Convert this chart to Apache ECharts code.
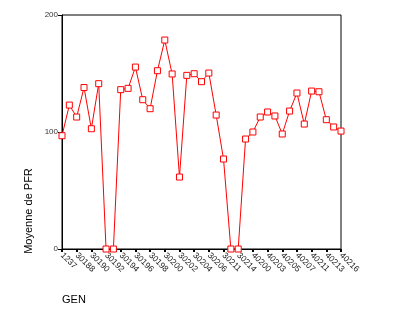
<!DOCTYPE html>
<html>
<head>
<meta charset="utf-8">
<script src="https://cdn.jsdelivr.net/npm/echarts@6/dist/echarts.min.js"></script>
<style>html,body{margin:0;padding:0;background:#fff;}#c{width:393px;height:315px;}</style>
</head>
<body>
<div id="c"></div>
<script>
var categories = ['1237','30187','30188','30189','30190','30191','30192','30193','30194','30195',
  '30196','30197','30198','30199','30200','30201','30202','30203','30204','30205',
  '30206','30210','30211','30212','30214','30215','40200','40201','40203','40204',
  '40205','40206','40207','40210','40211','40212','40213','40215','40216'];
var values = [96.8,123,112.8,138,102.8,141.3,0,0,136.2,137.3,
  155.5,127.6,119.9,152.4,178.6,149.6,61.5,148.4,149.8,143,
  150.4,114.5,76.9,0,0,94,100,112.8,117.1,113.7,
  98.3,117.9,133.3,106.8,135,134.4,110.5,104.3,100.8];
var yTicks = [0,100,200];
var yName = 'Moyenne de PFR';
var xName = 'GEN';

var chart = echarts.init(document.getElementById('c'), null, {renderer:'canvas'});
var font = 'Liberation Sans, Arial, sans-serif';
chart.setOption({
  animation:false,
  grid:{left:62,right:52,top:15,bottom:66,show:true,borderColor:'#000',borderWidth:1,backgroundColor:'transparent'},
  xAxis:{
    type:'category', data:categories, boundaryGap:false,
    axisLine:{lineStyle:{color:'#000',width:1}},
    axisTick:{show:true,interval:1,length:3,lineStyle:{color:'#000',width:2}},
    axisLabel:{interval:1,rotate:-45,fontSize:8.5,color:'#222',fontFamily:font,margin:5},
    splitLine:{show:false}
  },
  yAxis:{
    type:'value', min:yTicks[0], max:yTicks[yTicks.length-1], interval:100,
    axisLine:{show:true,lineStyle:{color:'#000',width:1}},
    axisTick:{show:true,length:4,lineStyle:{color:'#000',width:1}},
    axisLabel:{fontSize:8,color:'#333',fontFamily:font,margin:4},
    splitLine:{show:false}
  },
  graphic:[
    {type:'text',x:23,y:211,rotation:Math.PI/2,style:{text:yName,font:'11px '+font,fill:'#000',align:'center',verticalAlign:'top'}},
    {type:'text',x:62,y:294,style:{text:xName,font:'11px '+font,fill:'#000',align:'left',verticalAlign:'top'}}
  ],
  series:[{
    type:'line', data:values, showAllSymbol:true,
    symbol:'rect', symbolSize:6,
    itemStyle:{color:'#fff',borderColor:'#ff0000',borderWidth:1},
    lineStyle:{color:'#ff0000',width:1}
  }]
});
</script>
</body>
</html>
